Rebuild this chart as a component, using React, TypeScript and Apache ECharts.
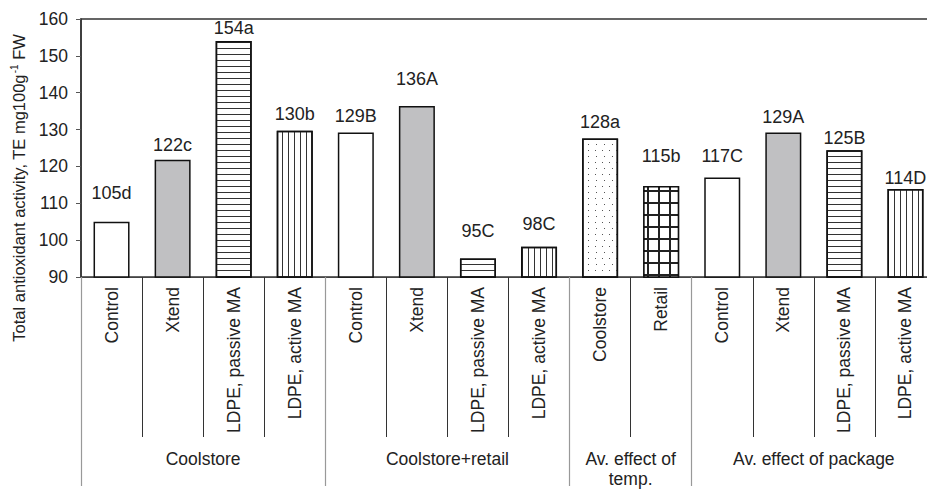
import React, { useEffect, useRef } from "react";
import * as echarts from "echarts";

// ---- data ----
const categories = [
  "Control", "Xtend", "LDPE, passive MA", "LDPE, active MA",
  "Control", "Xtend", "LDPE, passive MA", "LDPE, active MA",
  "Coolstore", "Retail",
  "Control", "Xtend", "LDPE, passive MA", "LDPE, active MA",
];
const treatments = [
  "control", "xtend", "passive", "active",
  "control", "xtend", "passive", "active",
  "coolstore", "retail",
  "control", "xtend", "passive", "active",
];
const barValues = [105, 121.8, 154, 129.7, 129.2, 136.4, 95, 98.2, 127.6, 114.7, 117, 129.2, 124.4, 113.9];
const meanLabels = [105, 122, 154, 130, 129, 136, 95, 98, 128, 115, 117, 129, 125, 114];
const letters = ["d", "c", "a", "b", "B", "A", "C", "C", "a", "b", "C", "A", "B", "D"];
const groupNames = ["Coolstore", "Coolstore+retail", "Av. effect of\ntemp.", "Av. effect of package"];
const groupSizes = [4, 4, 2, 4];
const yMin = 90;
const yMax = 160;
const yStep = 10;
// label gap above bars (hand-placed in the original)
const labelLift = [20, 6, 4, 8, 8, 18, 19, 14, 7, 21, 12, 7, 3, 2];

const FONT = "'Liberation Sans', Arial, sans-serif";
const TEXT = "#222";

const styleFor = (t: string): any => {
  const base = { borderColor: "#111", borderWidth: 1.5 };
  switch (t) {
    case "control":
      return { ...base, color: "#ffffff" };
    case "xtend":
      return { ...base, color: "#c0c0c2" };
    case "passive":
      return {
        ...base, color: "#ffffff",
        decal: { symbol: "rect", symbolSize: 1, dashArrayX: [1, 0], dashArrayY: [1, 4.4], color: "#333" },
      };
    case "active":
      return {
        ...base, color: "#ffffff",
        decal: { symbol: "rect", symbolSize: 1, dashArrayX: [1, 4.1], dashArrayY: [1, 0], color: "#333" },
      };
    case "coolstore":
      return {
        ...base, color: "#ffffff",
        decal: { symbol: "rect", symbolSize: 1, dashArrayX: [[1, 6], [0, 3.5, 1, 2.5]], dashArrayY: [1, 4.5], color: "#555" },
      };
    case "retail":
      return {
        ...base, color: "#222222",
        decal: { symbol: "rect", symbolSize: 1, dashArrayX: [9, 1.5], dashArrayY: [9.2, 1.5], color: "#ffffff" },
      };
    default:
      return base;
  }
};

export default function App() {
  const ref = useRef<HTMLDivElement>(null);

  useEffect(() => {
    if (!ref.current) return;
    const chart = echarts.init(ref.current, null, { renderer: "svg" });

    const bounds: number[] = [0];
    const centers: number[] = [];
    groupSizes.forEach((s) => {
      const start = bounds[bounds.length - 1];
      centers.push(start + s / 2);
      bounds.push(start + s);
    });

    const option: any = {
      animation: false,
      grid: {
        left: 81, top: 19, right: 24, bottom: 210,
        show: true, borderColor: "#333", borderWidth: 1.5, backgroundColor: "transparent",
      },
      xAxis: [
        {
          type: "category",
          data: categories,
          boundaryGap: true,
          axisLine: { show: true, lineStyle: { color: "#444", width: 1 } },
          axisTick: { show: true, interval: 0, length: 160, alignWithLabel: false, lineStyle: { color: "#333", width: 1 } },
          axisLabel: { interval: 0, rotate: 90, margin: 10, fontSize: 17.5, fontFamily: FONT, color: TEXT },
        },
        {
          type: "value",
          min: 0,
          max: categories.length,
          position: "bottom",
          axisLine: { show: false },
          splitLine: { show: false },
          axisTick: { show: true, customValues: bounds, length: 209, lineStyle: { color: "#999", width: 1.2 } },
          axisLabel: {
            show: true,
            customValues: centers,
            formatter: (v: number) => {
              const i = centers.findIndex((c) => Math.abs(c - v) < 1e-6);
              return i >= 0 ? groupNames[i] : "";
            },
            margin: 172, fontSize: 17.5, lineHeight: 20, fontFamily: FONT, color: TEXT, align: "center",
          },
        },
      ],
      yAxis: {
        type: "value",
        min: yMin, max: yMax, interval: yStep,
        axisLine: { show: true, lineStyle: { color: "#333", width: 1.5 } },
        axisTick: { show: true, length: 5, inside: false, lineStyle: { color: "#555" } },
        splitLine: { show: false },
        axisLabel: { margin: 13, fontSize: 17.5, fontFamily: FONT, color: TEXT },
      },
      graphic: [
        {
          type: "text",
          x: 19, y: 188,
          rotation: Math.PI / 2,
          style: {
            text: "{a|Total antioxidant activity, TE mg100g}{s|-1}{a| FW}",
            align: "center",
            verticalAlign: "middle",
            rich: {
              a: { fontSize: 16.5, fontFamily: FONT, fill: TEXT, color: TEXT, lineHeight: 20 },
              s: { fontSize: 10, fontFamily: FONT, fill: TEXT, color: TEXT, lineHeight: 20, verticalAlign: "top", padding: [0, 0, 0, 1] },
            },
          },
        },
      ],
      series: [
        {
          type: "bar",
          xAxisIndex: 0,
          barWidth: 36,
          data: barValues.map((v, i) => ({
            value: v,
            itemStyle: styleFor(treatments[i]),
            label: { distance: labelLift[i] },
          })),
          label: {
            show: true,
            position: "top",
            fontSize: 18,
            fontFamily: FONT,
            color: TEXT,
            formatter: (p: any) => `${meanLabels[p.dataIndex]}${letters[p.dataIndex]}`,
          },
        },
      ],
    };
    chart.setOption(option);
    return () => chart.dispose();
  }, []);

  return (
    <div style={{ position: "fixed", left: 0, top: 0, width: 927, height: 489, overflow: "hidden", background: "#fff" }}>
      <div ref={ref} style={{ width: 960, height: 489 }} />
    </div>
  );
}
